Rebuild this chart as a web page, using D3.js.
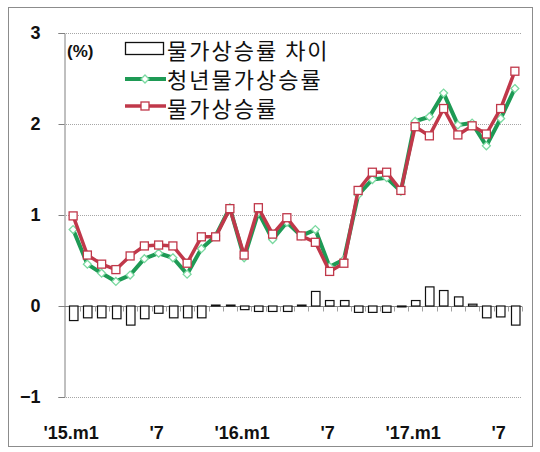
<!DOCTYPE html>
<html>
<head>
<meta charset="utf-8">
<script src="https://cdn.jsdelivr.net/npm/d3@7.9.0/dist/d3.min.js"></script>
<style>
  body { margin: 0; background: #fff; }
  svg { display: block; }
</style>
</head>
<body>
<div id="chart"></div>
<script>
// monthly data, '15.m1 .. '17.m8
const months = d3.timeMonth.range(new Date(2015, 0, 1), new Date(2017, 8, 1));

// 청년물가상승률 (youth CPI, %)
const youthCpi = [0.84, 0.46, 0.36, 0.27, 0.34, 0.52, 0.58, 0.53, 0.35, 0.63,
                  0.77, 1.08, 0.53, 1.03, 0.73, 0.92, 0.77, 0.84, 0.43, 0.51,
                  1.22, 1.39, 1.41, 1.26, 2.03, 2.08, 2.34, 1.99, 2.01, 1.76,
                  2.06, 2.39];
// 물가상승률 (CPI, %)
const cpi = [0.99, 0.56, 0.46, 0.40, 0.55, 0.66, 0.67, 0.66, 0.47, 0.76,
             0.76, 1.07, 0.56, 1.08, 0.79, 0.97, 0.77, 0.70, 0.38, 0.47,
             1.27, 1.47, 1.47, 1.27, 1.97, 1.87, 2.17, 1.88, 1.98, 1.89,
             2.17, 2.58];
// 물가상승률 차이 (gap)
const gap = [-0.16, -0.13, -0.13, -0.14, -0.21, -0.14, -0.08, -0.13, -0.13, -0.13,
             0.01, 0.01, -0.04, -0.06, -0.06, -0.06, 0.01, 0.16, 0.06, 0.06,
             -0.07, -0.07, -0.07, -0.01, 0.06, 0.21, 0.17, 0.10, 0.02, -0.13,
             -0.12, -0.21];

const tickIdx = [0, 6, 12, 18, 24, 30];
const tickLabels = ["'15.m1", "'7", "'16.m1", "'7", "'17.m1", "'7"];
const yTicks = [-1, 0, 1, 2, 3];

const legendLabels = ['물가상승률 차이', '청년물가상승률', '물가상승률'];

const width = 540, height = 452;
const green = '#1e9a55', red = '#c0384a';

const svg = d3.select('#chart').append('svg')
  .attr('width', width).attr('height', height)
  .style('font-family', "'Liberation Sans', Arial, sans-serif");

svg.append('rect').attr('x', 8.5).attr('y', 7.5).attr('width', 524).attr('height', 439)
  .attr('fill', '#fff').attr('stroke', '#8c8c8c');

const x = d3.scaleBand().domain(d3.range(months.length)).range([66, 522]).padding(0);
const y = d3.scaleLinear().domain([-1, 3]).range([397, 33]);
const cx = i => x(i) + x.bandwidth() / 2;

// gridlines
svg.append('g')
  .selectAll('line')
  .data(yTicks.filter(d => d !== 0))
  .join('line')
  .attr('x1', 66).attr('x2', 522)
  .attr('y1', d => Math.round(y(d)) + 0.5).attr('y2', d => Math.round(y(d)) + 0.5)
  .attr('stroke', '#a6a6a6').attr('stroke-dasharray', '1,1');

// y axis
const yAxis = svg.append('g')
  .attr('transform', 'translate(64.5,0)')
  .call(d3.axisLeft(y).tickValues(yTicks).tickSize(6).tickFormat(d3.format('d')));
yAxis.select('.domain').attr('stroke', '#808080');
yAxis.selectAll('.tick line').attr('stroke', '#808080');
yAxis.selectAll('.tick text')
  .attr('x', -24)
  .style('font-size', '18px').style('font-weight', 'bold').attr('fill', '#111')
  .attr('font-family', "'Liberation Sans', Arial, sans-serif");

// zero axis with category ticks hanging down
const x0 = Math.round(y(0)) + 0.5;
svg.append('line').attr('x1', 64).attr('x2', 522).attr('y1', x0).attr('y2', x0)
  .attr('stroke', '#808080');
svg.append('g').selectAll('line')
  .data(d3.range(1, months.length + 1))
  .join('line')
  .attr('x1', i => Math.round(x(i - 1) + x.bandwidth()) + 0.5)
  .attr('x2', i => Math.round(x(i - 1) + x.bandwidth()) + 0.5)
  .attr('y1', x0).attr('y2', x0 + 5)
  .attr('stroke', '#a0a0a0');

// gap bars
const bw = 8.5;
svg.append('g').selectAll('rect')
  .data(gap)
  .join('rect')
  .attr('x', (d, i) => Math.round(cx(i) - bw / 2) + 0.5)
  .attr('y', d => Math.min(y(d), y(0)))
  .attr('width', bw)
  .attr('height', d => Math.abs(y(d) - y(0)))
  .attr('fill', '#fff').attr('stroke', '#111').attr('stroke-width', 1.2);

const line = d3.line().x((d, i) => cx(i)).y(d => y(d));

// youth CPI (green, diamonds)
svg.append('path').datum(youthCpi).attr('d', line)
  .attr('fill', 'none').attr('stroke', green).attr('stroke-width', 4).attr('stroke-linejoin', 'round');
svg.append('g').selectAll('path')
  .data(youthCpi)
  .join('path')
  .attr('d', d3.symbol(d3.symbolDiamond2, 40))
  .attr('transform', (d, i) => `translate(${cx(i)},${y(d)})`)
  .attr('fill', '#fff').attr('stroke', '#7ad9a0').attr('stroke-width', 1.3);

// CPI (red, squares)
svg.append('path').datum(cpi).attr('d', line)
  .attr('fill', 'none').attr('stroke', red).attr('stroke-width', 3.5).attr('stroke-linejoin', 'round');
svg.append('g').selectAll('rect')
  .data(cpi)
  .join('rect')
  .attr('x', (d, i) => cx(i) - 4).attr('y', d => y(d) - 4)
  .attr('width', 8).attr('height', 8)
  .attr('fill', '#fff').attr('stroke', red).attr('stroke-width', 1.3);

// x labels
svg.append('g').selectAll('text')
  .data(tickIdx)
  .join('text')
  .attr('x', i => cx(i) - 2)
  .attr('y', 439)
  .attr('text-anchor', 'middle')
  .style('font-size', '18px').style('font-weight', 'bold').attr('fill', '#111')
  .text((d, k) => tickLabels[k]);

// unit
svg.append('text').attr('x', 67).attr('y', 57)
  .style('font-size', '17px').style('font-weight', 'bold').attr('fill', '#111')
  .text('(%)');

// legend
const lg = svg.append('g').style('font-family', "'Noto Sans CJK KR', sans-serif");
lg.append('rect').attr('x', 125.5).attr('y', 42.5).attr('width', 38).attr('height', 12)
  .attr('fill', '#fff').attr('stroke', '#111').attr('stroke-width', 1.3);
lg.append('line').attr('x1', 125).attr('x2', 166).attr('y1', 79).attr('y2', 79)
  .attr('stroke', green).attr('stroke-width', 4);
lg.append('path').attr('d', d3.symbol(d3.symbolDiamond2, 40))
  .attr('transform', 'translate(145,79)')
  .attr('fill', '#fff').attr('stroke', '#7ad9a0').attr('stroke-width', 1.3);
lg.append('line').attr('x1', 125).attr('x2', 166).attr('y1', 106).attr('y2', 106)
  .attr('stroke', red).attr('stroke-width', 3.5);
lg.append('rect').attr('x', 141).attr('y', 102).attr('width', 8).attr('height', 8)
  .attr('fill', '#fff').attr('stroke', red).attr('stroke-width', 1.3);
lg.selectAll('text.lbl')
  .data(legendLabels)
  .join('text')
  .attr('class', 'lbl')
  .attr('x', 167)
  .attr('y', (d, i) => 59 + i * 29)
  .style('font-size', '22px').style('letter-spacing', '2px').attr('fill', '#111')
  .text(d => d);
</script>
</body>
</html>
